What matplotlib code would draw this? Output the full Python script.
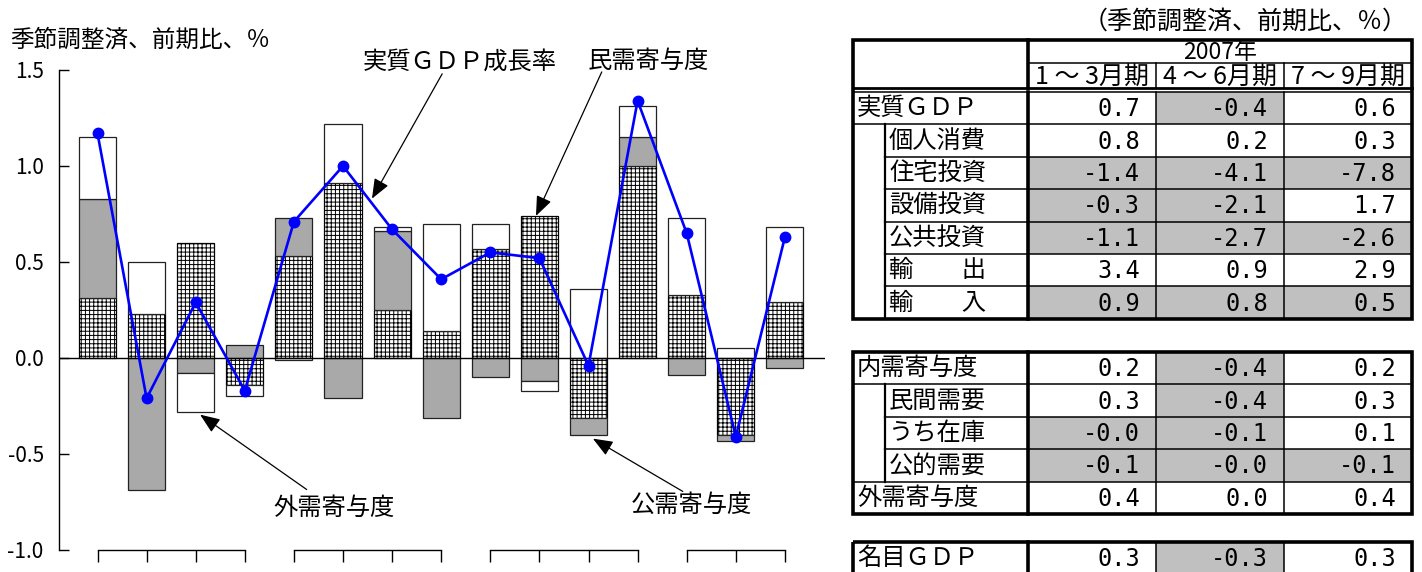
import matplotlib
matplotlib.use("Agg")
import matplotlib.pyplot as plt
import numpy as np
from matplotlib.patches import Rectangle

plt.rcParams["font.family"] = ["Noto Sans CJK JP", "DejaVu Sans"]
plt.rcParams["axes.unicode_minus"] = False
plt.rcParams["hatch.linewidth"] = 0.7

# 2004 Q1 .. 2007 Q3, quarter-on-quarter, seasonally adjusted (%)
quarters = np.arange(15)
year_groups = [[0, 1, 2, 3], [4, 5, 6, 7], [8, 9, 10, 11], [12, 13, 14]]
gdp_growth = [1.17, -0.21, 0.29, -0.17, 0.71, 1.00, 0.67, 0.41,
              0.55, 0.52, -0.04, 1.34, 0.65, -0.41, 0.63]
private_demand = [0.31, 0.23, 0.60, -0.14, 0.53, 0.91, 0.25, 0.14,
                  0.57, 0.74, -0.31, 1.00, 0.33, -0.40, 0.29]
public_demand = [0.52, -0.69, -0.08, 0.07, 0.20, -0.21, 0.41, -0.31,
                 -0.10, -0.12, -0.09, 0.15, -0.09, -0.03, -0.05]
external_demand = [0.32, 0.27, -0.20, -0.06, -0.01, 0.31, 0.02, 0.56,
                   0.13, -0.05, 0.36, 0.16, 0.40, 0.05, 0.39]
ytick_values = [-1.0, -0.5, 0.0, 0.5, 1.0, 1.5]
ytick_labels = ["-1.0", "-0.5", "0.0", "0.5", "1.0", "1.5"]

# table on the right
table_year = "2007年"
table_periods = ["1 ～ 3月期", "4 ～ 6月期", "7 ～ 9月期"]
gdp_items = ["実質ＧＤＰ", "個人消費", "住宅投資", "設備投資", "公共投資", "輸　　出", "輸　　入"]
gdp_values = [["0.7", "-0.4", "0.6"], ["0.8", "0.2", "0.3"], ["-1.4", "-4.1", "-7.8"],
              ["-0.3", "-2.1", "1.7"], ["-1.1", "-2.7", "-2.6"], ["3.4", "0.9", "2.9"],
              ["0.9", "0.8", "0.5"]]
gdp_indent = [False, True, True, True, True, True, True]
gdp_signs = [1, 1, 1, 1, 1, 1, -1]  # imports weigh against GDP
contrib_items = ["内需寄与度", "民間需要", "うち在庫", "公的需要", "外需寄与度"]
contrib_values = [["0.2", "-0.4", "0.2"], ["0.3", "-0.4", "0.3"], ["-0.0", "-0.1", "0.1"],
                  ["-0.1", "-0.0", "-0.1"], ["0.4", "0.0", "0.4"]]
contrib_indent = [False, True, True, True, False]
contrib_signs = [1, 1, 1, 1, 1]
nominal_items = ["名目ＧＤＰ"]
nominal_values = [["0.3", "-0.3", "0.3"]]

W, H = 1422, 572
fig = plt.figure(figsize=(W / 100, H / 100), dpi=100)

# ---- bar chart --------------------------------------------------------------
ax_left, ax_right, ax_top, ax_bottom = 59, 825, 70, 550
ax = fig.add_axes([ax_left / W, (H - ax_bottom) / H,
                   (ax_right - ax_left) / W, (ax_bottom - ax_top) / H])
pitch, first = 49.1, 97.5
ax.set_xlim((ax_left - first) / pitch, (ax_right - first) / pitch)
ax.set_ylim(-1.0, 1.5)

styles = [
    dict(facecolor="white", hatch="++++", edgecolor="black"),
    dict(facecolor="#a9a9a9", edgecolor="#222222"),
    dict(facecolor="white", edgecolor="#222222"),
]
pos_base = np.zeros(len(quarters))
neg_base = np.zeros(len(quarters))
for series, style in zip([private_demand, public_demand, external_demand], styles):
    v = np.asarray(series)
    bottoms = np.where(v >= 0, pos_base, neg_base)
    ax.bar(quarters, v, bottom=bottoms, width=0.754, linewidth=0.9, zorder=2, **style)
    pos_base += np.clip(v, 0, None)
    neg_base += np.clip(v, None, 0)

ax.axhline(0, color="black", lw=1.0, zorder=3)
ax.plot(quarters, gdp_growth, color="#0000ff", lw=1.9, marker="o", ms=7.5, zorder=5)

for spine in ["top", "right", "bottom"]:
    ax.spines[spine].set_visible(False)
ax.spines["left"].set_linewidth(1.0)
ax.set_xticks([])
ax.set_yticks(ytick_values)
ax.set_yticklabels(ytick_labels)
ax.tick_params(axis="y", direction="in", length=7.5, width=1.0, pad=11, labelsize=15)

# year brackets along the bottom
tick_drop = 12 / 192
for group in year_groups:
    ax.plot([group[0], group[-1]], [-1.0, -1.0], color="black", lw=1.0, clip_on=False)
    ax.vlines(group, -1.0 - tick_drop, -1.0, color="black", lw=1.0, clip_on=False)

fig.text(10 / W, 1 - 40 / H, "季節調整済、前期比、％", fontsize=17, va="center", ha="left")

arrow = dict(arrowstyle="-|>,head_length=0.55,head_width=0.22", color="black",
             lw=0.9, shrinkA=0, shrinkB=0, mutation_scale=22)
labels = [
    ("実質ＧＤＰ成長率", (7.37, 1.545), (7.02, 1.48), (5.59, 0.83)),
    ("民需寄与度", (11.21, 1.545), (10.27, 1.49), (8.93, 0.74)),
    ("外需寄与度", (4.82, -0.78), (4.26, -0.685), (2.09, -0.295)),
    ("公需寄与度", (12.10, -0.765), (11.92, -0.695), (10.09, -0.42)),
]
for text, text_pos, tail, tip in labels:
    ax.text(*text_pos, text, fontsize=17.5, ha="center", va="center")
    ax.annotate("", xy=tip, xytext=tail, arrowprops=arrow, zorder=6)

# ---- table ------------------------------------------------------------------
tab = fig.add_axes([0, 0, 1, 1])
tab.set_xlim(0, W)
tab.set_ylim(H, 0)
tab.axis("off")

x_left, x_indent, x_label = 853, 885, 1028
col_w = 128
x_right = x_label + 3 * col_w
row_h = 32.4
thick, thin = 2.6, 1.1
fs = 17.5
num_font = dict(family="DejaVu Sans Mono", fontsize=17)


def hline(x0, x1, y, lw):
    tab.plot([x0, x1], [y, y], color="black", lw=lw, solid_capstyle="projecting")


def vline(x, y0, y1, lw):
    tab.plot([x, x], [y0, y1], color="black", lw=lw, solid_capstyle="projecting")


def draw_rows(top, items, values, indent, signs):
    for r, (item, vals, ind, sg) in enumerate(zip(items, values, indent, signs)):
        y0 = top + r * row_h
        yc = y0 + row_h / 2
        for c, v in enumerate(vals):
            x0 = x_label + c * col_w
            negative = v.startswith("-")
            if (negative and sg > 0) or (not negative and sg < 0):
                tab.add_patch(Rectangle((x0, y0), col_w, row_h, facecolor="#c0c0c0",
                                        edgecolor="none"))
            tab.text(x0 + col_w - 16, yc + 1, v, ha="right", va="center", **num_font)
        tab.text((x_indent if ind else x_left) + 4, yc, item, ha="left", va="center",
                 fontsize=fs)
        if ind:
            vline(x_indent, y0, y0 + row_h, 1.6)
        if r > 0:
            start = x_indent if (ind and indent[r - 1]) else x_left
            hline(start, x_right, y0, thin)
    bottom = top + row_h * len(items)
    for c in (1, 2):
        vline(x_label + c * col_w, top, bottom, thin)
    vline(x_label, top, bottom, thick)
    return bottom


def frame(top, bottom):
    tab.add_patch(Rectangle((x_left, top), x_right - x_left, bottom - top,
                            facecolor="none", edgecolor="black", lw=thick, zorder=4))


tab.text(1408, 22, "（季節調整済、前期比、％）", ha="right", va="center", fontsize=18)

# block 1: header + real GDP components
t1 = 40
head1, head2 = 63, 88
tab.text((x_label + x_right) / 2, (t1 + head1) / 2 + 1, table_year, ha="center",
         va="center", fontsize=16.5)
hline(x_label, x_right, head1, thin)
for c, p in enumerate(table_periods):
    tab.text(x_label + c * col_w + col_w / 2, (head1 + head2) / 2 + 1, p, ha="center",
             va="center", fontsize=18)
    if c > 0:
        vline(x_label + c * col_w, head1, head2, thin)
vline(x_label, t1, head2, thick)
hline(x_left, x_right, head2, 2.0)
body1 = head2 + 4
hline(x_left, x_right, body1, thin)
b1 = draw_rows(body1, gdp_items, gdp_values, gdp_indent, gdp_signs)
frame(t1, b1)

# block 2: demand contributions
t2 = 352
b2 = draw_rows(t2, contrib_items, contrib_values, contrib_indent, contrib_signs)
frame(t2, b2)

# block 3: nominal GDP
t3 = 542
b3 = draw_rows(t3, nominal_items, nominal_values, [False], [1])
frame(t3, b3)

fig.savefig("out.png", dpi=100)
